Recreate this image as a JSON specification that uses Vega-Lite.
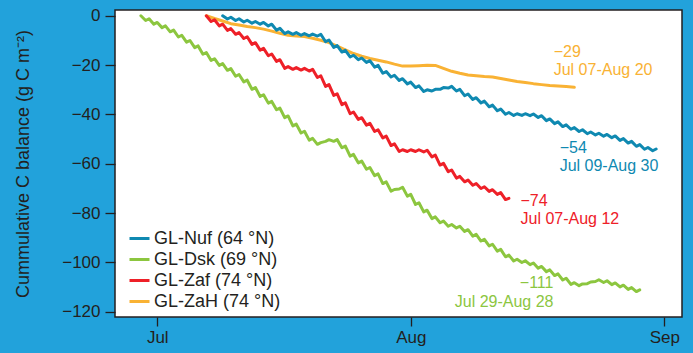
{
"$schema":"https://vega.github.io/schema/vega-lite/v6.json",
"width":567,"height":307,
"autosize":{"type":"none"},
"padding":{"left":115,"top":10,"right":11,"bottom":36},
"background":"#22a2db",
"config":{"view":{"stroke":"#231f20","strokeWidth":1.5,"fill":"#ffffff"},"font":"Liberation Sans"},
"datasets":{
"series":[
{"s":"GL-ZaH (74 °N)","t":"2013-07-07T00:00","v":0},
{"s":"GL-ZaH (74 °N)","t":"2013-07-08T00:00","v":-1.1},
{"s":"GL-ZaH (74 °N)","t":"2013-07-09T00:00","v":-2.1},
{"s":"GL-ZaH (74 °N)","t":"2013-07-10T00:00","v":-3.2},
{"s":"GL-ZaH (74 °N)","t":"2013-07-11T00:00","v":-3.7},
{"s":"GL-ZaH (74 °N)","t":"2013-07-12T00:00","v":-4.3},
{"s":"GL-ZaH (74 °N)","t":"2013-07-13T00:00","v":-4.8},
{"s":"GL-ZaH (74 °N)","t":"2013-07-14T00:00","v":-5.4},
{"s":"GL-ZaH (74 °N)","t":"2013-07-15T00:00","v":-6.2},
{"s":"GL-ZaH (74 °N)","t":"2013-07-16T00:00","v":-7.1},
{"s":"GL-ZaH (74 °N)","t":"2013-07-17T00:00","v":-7.9},
{"s":"GL-ZaH (74 °N)","t":"2013-07-18T00:00","v":-8.2},
{"s":"GL-ZaH (74 °N)","t":"2013-07-19T00:00","v":-8.4},
{"s":"GL-ZaH (74 °N)","t":"2013-07-20T00:00","v":-9.1},
{"s":"GL-ZaH (74 °N)","t":"2013-07-21T00:00","v":-9.9},
{"s":"GL-ZaH (74 °N)","t":"2013-07-22T00:00","v":-10.9},
{"s":"GL-ZaH (74 °N)","t":"2013-07-23T00:00","v":-12.3},
{"s":"GL-ZaH (74 °N)","t":"2013-07-24T00:00","v":-13.8},
{"s":"GL-ZaH (74 °N)","t":"2013-07-25T00:00","v":-15.3},
{"s":"GL-ZaH (74 °N)","t":"2013-07-26T00:00","v":-16.4},
{"s":"GL-ZaH (74 °N)","t":"2013-07-27T00:00","v":-17.3},
{"s":"GL-ZaH (74 °N)","t":"2013-07-28T00:00","v":-18.0},
{"s":"GL-ZaH (74 °N)","t":"2013-07-29T00:00","v":-18.7},
{"s":"GL-ZaH (74 °N)","t":"2013-07-30T00:00","v":-19.6},
{"s":"GL-ZaH (74 °N)","t":"2013-07-31T00:00","v":-20.4},
{"s":"GL-ZaH (74 °N)","t":"2013-08-01T00:00","v":-20.4},
{"s":"GL-ZaH (74 °N)","t":"2013-08-02T00:00","v":-20.2},
{"s":"GL-ZaH (74 °N)","t":"2013-08-03T00:00","v":-20.0},
{"s":"GL-ZaH (74 °N)","t":"2013-08-04T00:00","v":-20.1},
{"s":"GL-ZaH (74 °N)","t":"2013-08-05T00:00","v":-21.3},
{"s":"GL-ZaH (74 °N)","t":"2013-08-06T00:00","v":-22.5},
{"s":"GL-ZaH (74 °N)","t":"2013-08-07T00:00","v":-23.3},
{"s":"GL-ZaH (74 °N)","t":"2013-08-08T00:00","v":-24.0},
{"s":"GL-ZaH (74 °N)","t":"2013-08-09T00:00","v":-24.3},
{"s":"GL-ZaH (74 °N)","t":"2013-08-10T00:00","v":-24.6},
{"s":"GL-ZaH (74 °N)","t":"2013-08-11T00:00","v":-24.8},
{"s":"GL-ZaH (74 °N)","t":"2013-08-12T00:00","v":-25.4},
{"s":"GL-ZaH (74 °N)","t":"2013-08-13T00:00","v":-26.0},
{"s":"GL-ZaH (74 °N)","t":"2013-08-14T00:00","v":-26.6},
{"s":"GL-ZaH (74 °N)","t":"2013-08-15T00:00","v":-27.0},
{"s":"GL-ZaH (74 °N)","t":"2013-08-16T00:00","v":-27.5},
{"s":"GL-ZaH (74 °N)","t":"2013-08-17T00:00","v":-27.9},
{"s":"GL-ZaH (74 °N)","t":"2013-08-18T00:00","v":-28.3},
{"s":"GL-ZaH (74 °N)","t":"2013-08-19T00:00","v":-28.5},
{"s":"GL-ZaH (74 °N)","t":"2013-08-20T00:00","v":-28.7},
{"s":"GL-ZaH (74 °N)","t":"2013-08-21T00:00","v":-29.0},

{"s":"GL-Zaf (74 °N)","t":"2013-07-07T00:00","v":0},
{"s":"GL-Zaf (74 °N)","t":"2013-07-07T14:00","v":-2.3},
{"s":"GL-Zaf (74 °N)","t":"2013-07-08T00:00","v":-1.6},
{"s":"GL-Zaf (74 °N)","t":"2013-07-08T14:00","v":-4.1},
{"s":"GL-Zaf (74 °N)","t":"2013-07-09T00:00","v":-3.4},
{"s":"GL-Zaf (74 °N)","t":"2013-07-09T14:00","v":-5.9},
{"s":"GL-Zaf (74 °N)","t":"2013-07-10T00:00","v":-5.2},
{"s":"GL-Zaf (74 °N)","t":"2013-07-10T14:00","v":-7.5},
{"s":"GL-Zaf (74 °N)","t":"2013-07-11T00:00","v":-6.8},
{"s":"GL-Zaf (74 °N)","t":"2013-07-11T14:00","v":-9.2},
{"s":"GL-Zaf (74 °N)","t":"2013-07-12T00:00","v":-8.5},
{"s":"GL-Zaf (74 °N)","t":"2013-07-12T14:00","v":-11.6},
{"s":"GL-Zaf (74 °N)","t":"2013-07-13T00:00","v":-10.9},
{"s":"GL-Zaf (74 °N)","t":"2013-07-13T14:00","v":-13.9},
{"s":"GL-Zaf (74 °N)","t":"2013-07-14T00:00","v":-13.2},
{"s":"GL-Zaf (74 °N)","t":"2013-07-14T14:00","v":-16.2},
{"s":"GL-Zaf (74 °N)","t":"2013-07-15T00:00","v":-15.5},
{"s":"GL-Zaf (74 °N)","t":"2013-07-15T14:00","v":-18.5},
{"s":"GL-Zaf (74 °N)","t":"2013-07-16T00:00","v":-17.8},
{"s":"GL-Zaf (74 °N)","t":"2013-07-16T14:00","v":-21.3},
{"s":"GL-Zaf (74 °N)","t":"2013-07-17T00:00","v":-20.6},
{"s":"GL-Zaf (74 °N)","t":"2013-07-17T14:00","v":-21.7},
{"s":"GL-Zaf (74 °N)","t":"2013-07-18T00:00","v":-21.0},
{"s":"GL-Zaf (74 °N)","t":"2013-07-18T14:00","v":-22.0},
{"s":"GL-Zaf (74 °N)","t":"2013-07-19T00:00","v":-21.3},
{"s":"GL-Zaf (74 °N)","t":"2013-07-19T14:00","v":-22.4},
{"s":"GL-Zaf (74 °N)","t":"2013-07-20T00:00","v":-21.7},
{"s":"GL-Zaf (74 °N)","t":"2013-07-20T14:00","v":-25.0},
{"s":"GL-Zaf (74 °N)","t":"2013-07-21T00:00","v":-24.3},
{"s":"GL-Zaf (74 °N)","t":"2013-07-21T14:00","v":-28.6},
{"s":"GL-Zaf (74 °N)","t":"2013-07-22T00:00","v":-27.9},
{"s":"GL-Zaf (74 °N)","t":"2013-07-22T14:00","v":-32.3},
{"s":"GL-Zaf (74 °N)","t":"2013-07-23T00:00","v":-31.6},
{"s":"GL-Zaf (74 °N)","t":"2013-07-23T14:00","v":-36.0},
{"s":"GL-Zaf (74 °N)","t":"2013-07-24T00:00","v":-35.3},
{"s":"GL-Zaf (74 °N)","t":"2013-07-24T14:00","v":-39.7},
{"s":"GL-Zaf (74 °N)","t":"2013-07-25T00:00","v":-39.0},
{"s":"GL-Zaf (74 °N)","t":"2013-07-25T14:00","v":-42.0},
{"s":"GL-Zaf (74 °N)","t":"2013-07-26T00:00","v":-41.3},
{"s":"GL-Zaf (74 °N)","t":"2013-07-26T14:00","v":-44.3},
{"s":"GL-Zaf (74 °N)","t":"2013-07-27T00:00","v":-43.6},
{"s":"GL-Zaf (74 °N)","t":"2013-07-27T14:00","v":-46.9},
{"s":"GL-Zaf (74 °N)","t":"2013-07-28T00:00","v":-46.2},
{"s":"GL-Zaf (74 °N)","t":"2013-07-28T14:00","v":-49.5},
{"s":"GL-Zaf (74 °N)","t":"2013-07-29T00:00","v":-48.8},
{"s":"GL-Zaf (74 °N)","t":"2013-07-29T14:00","v":-52.6},
{"s":"GL-Zaf (74 °N)","t":"2013-07-30T00:00","v":-51.9},
{"s":"GL-Zaf (74 °N)","t":"2013-07-30T14:00","v":-55.0},
{"s":"GL-Zaf (74 °N)","t":"2013-07-31T00:00","v":-54.3},
{"s":"GL-Zaf (74 °N)","t":"2013-07-31T14:00","v":-55.0},
{"s":"GL-Zaf (74 °N)","t":"2013-08-01T00:00","v":-54.3},
{"s":"GL-Zaf (74 °N)","t":"2013-08-01T14:00","v":-55.0},
{"s":"GL-Zaf (74 °N)","t":"2013-08-02T00:00","v":-54.3},
{"s":"GL-Zaf (74 °N)","t":"2013-08-02T14:00","v":-55.2},
{"s":"GL-Zaf (74 °N)","t":"2013-08-03T00:00","v":-54.5},
{"s":"GL-Zaf (74 °N)","t":"2013-08-03T14:00","v":-57.2},
{"s":"GL-Zaf (74 °N)","t":"2013-08-04T00:00","v":-56.5},
{"s":"GL-Zaf (74 °N)","t":"2013-08-04T14:00","v":-60.5},
{"s":"GL-Zaf (74 °N)","t":"2013-08-05T00:00","v":-59.8},
{"s":"GL-Zaf (74 °N)","t":"2013-08-05T14:00","v":-63.2},
{"s":"GL-Zaf (74 °N)","t":"2013-08-06T00:00","v":-62.5},
{"s":"GL-Zaf (74 °N)","t":"2013-08-06T14:00","v":-65.8},
{"s":"GL-Zaf (74 °N)","t":"2013-08-07T00:00","v":-65.1},
{"s":"GL-Zaf (74 °N)","t":"2013-08-07T14:00","v":-67.3},
{"s":"GL-Zaf (74 °N)","t":"2013-08-08T00:00","v":-66.6},
{"s":"GL-Zaf (74 °N)","t":"2013-08-08T14:00","v":-68.7},
{"s":"GL-Zaf (74 °N)","t":"2013-08-09T00:00","v":-68.0},
{"s":"GL-Zaf (74 °N)","t":"2013-08-09T14:00","v":-70.0},
{"s":"GL-Zaf (74 °N)","t":"2013-08-10T00:00","v":-69.3},
{"s":"GL-Zaf (74 °N)","t":"2013-08-10T14:00","v":-71.2},
{"s":"GL-Zaf (74 °N)","t":"2013-08-11T00:00","v":-70.5},
{"s":"GL-Zaf (74 °N)","t":"2013-08-11T14:00","v":-72.4},
{"s":"GL-Zaf (74 °N)","t":"2013-08-12T00:00","v":-71.7},
{"s":"GL-Zaf (74 °N)","t":"2013-08-12T14:00","v":-74.5},
{"s":"GL-Zaf (74 °N)","t":"2013-08-13T00:00","v":-74.0},

{"s":"GL-Dsk (69 °N)","t":"2013-06-29T00:00","v":0},
{"s":"GL-Dsk (69 °N)","t":"2013-06-29T14:00","v":-1.9},
{"s":"GL-Dsk (69 °N)","t":"2013-06-30T00:00","v":-1.2},
{"s":"GL-Dsk (69 °N)","t":"2013-06-30T14:00","v":-3.4},
{"s":"GL-Dsk (69 °N)","t":"2013-07-01T00:00","v":-2.7},
{"s":"GL-Dsk (69 °N)","t":"2013-07-01T14:00","v":-4.8},
{"s":"GL-Dsk (69 °N)","t":"2013-07-02T00:00","v":-4.1},
{"s":"GL-Dsk (69 °N)","t":"2013-07-02T14:00","v":-6.5},
{"s":"GL-Dsk (69 °N)","t":"2013-07-03T00:00","v":-5.8},
{"s":"GL-Dsk (69 °N)","t":"2013-07-03T14:00","v":-8.6},
{"s":"GL-Dsk (69 °N)","t":"2013-07-04T00:00","v":-7.9},
{"s":"GL-Dsk (69 °N)","t":"2013-07-04T14:00","v":-10.7},
{"s":"GL-Dsk (69 °N)","t":"2013-07-05T00:00","v":-10.0},
{"s":"GL-Dsk (69 °N)","t":"2013-07-05T14:00","v":-12.9},
{"s":"GL-Dsk (69 °N)","t":"2013-07-06T00:00","v":-12.2},
{"s":"GL-Dsk (69 °N)","t":"2013-07-06T14:00","v":-15.6},
{"s":"GL-Dsk (69 °N)","t":"2013-07-07T00:00","v":-14.9},
{"s":"GL-Dsk (69 °N)","t":"2013-07-07T14:00","v":-18.1},
{"s":"GL-Dsk (69 °N)","t":"2013-07-08T00:00","v":-17.4},
{"s":"GL-Dsk (69 °N)","t":"2013-07-08T14:00","v":-20.1},
{"s":"GL-Dsk (69 °N)","t":"2013-07-09T00:00","v":-19.4},
{"s":"GL-Dsk (69 °N)","t":"2013-07-09T14:00","v":-22.1},
{"s":"GL-Dsk (69 °N)","t":"2013-07-10T00:00","v":-21.4},
{"s":"GL-Dsk (69 °N)","t":"2013-07-10T14:00","v":-24.5},
{"s":"GL-Dsk (69 °N)","t":"2013-07-11T00:00","v":-23.8},
{"s":"GL-Dsk (69 °N)","t":"2013-07-11T14:00","v":-26.8},
{"s":"GL-Dsk (69 °N)","t":"2013-07-12T00:00","v":-26.1},
{"s":"GL-Dsk (69 °N)","t":"2013-07-12T14:00","v":-29.8},
{"s":"GL-Dsk (69 °N)","t":"2013-07-13T00:00","v":-29.1},
{"s":"GL-Dsk (69 °N)","t":"2013-07-13T14:00","v":-32.7},
{"s":"GL-Dsk (69 °N)","t":"2013-07-14T00:00","v":-32.0},
{"s":"GL-Dsk (69 °N)","t":"2013-07-14T14:00","v":-35.4},
{"s":"GL-Dsk (69 °N)","t":"2013-07-15T00:00","v":-34.7},
{"s":"GL-Dsk (69 °N)","t":"2013-07-15T14:00","v":-38.1},
{"s":"GL-Dsk (69 °N)","t":"2013-07-16T00:00","v":-37.4},
{"s":"GL-Dsk (69 °N)","t":"2013-07-16T14:00","v":-41.3},
{"s":"GL-Dsk (69 °N)","t":"2013-07-17T00:00","v":-40.6},
{"s":"GL-Dsk (69 °N)","t":"2013-07-17T14:00","v":-44.6},
{"s":"GL-Dsk (69 °N)","t":"2013-07-18T00:00","v":-43.9},
{"s":"GL-Dsk (69 °N)","t":"2013-07-18T14:00","v":-47.5},
{"s":"GL-Dsk (69 °N)","t":"2013-07-19T00:00","v":-46.8},
{"s":"GL-Dsk (69 °N)","t":"2013-07-19T14:00","v":-50.4},
{"s":"GL-Dsk (69 °N)","t":"2013-07-20T00:00","v":-49.7},
{"s":"GL-Dsk (69 °N)","t":"2013-07-20T14:00","v":-52.1},
{"s":"GL-Dsk (69 °N)","t":"2013-07-21T00:00","v":-51.4},
{"s":"GL-Dsk (69 °N)","t":"2013-07-21T14:00","v":-50.9},
{"s":"GL-Dsk (69 °N)","t":"2013-07-22T00:00","v":-50.2},
{"s":"GL-Dsk (69 °N)","t":"2013-07-22T14:00","v":-50.9},
{"s":"GL-Dsk (69 °N)","t":"2013-07-23T00:00","v":-50.2},
{"s":"GL-Dsk (69 °N)","t":"2013-07-23T14:00","v":-53.5},
{"s":"GL-Dsk (69 °N)","t":"2013-07-24T00:00","v":-52.8},
{"s":"GL-Dsk (69 °N)","t":"2013-07-24T14:00","v":-56.9},
{"s":"GL-Dsk (69 °N)","t":"2013-07-25T00:00","v":-56.2},
{"s":"GL-Dsk (69 °N)","t":"2013-07-25T14:00","v":-59.6},
{"s":"GL-Dsk (69 °N)","t":"2013-07-26T00:00","v":-58.9},
{"s":"GL-Dsk (69 °N)","t":"2013-07-26T14:00","v":-62.2},
{"s":"GL-Dsk (69 °N)","t":"2013-07-27T00:00","v":-61.5},
{"s":"GL-Dsk (69 °N)","t":"2013-07-27T14:00","v":-64.8},
{"s":"GL-Dsk (69 °N)","t":"2013-07-28T00:00","v":-64.1},
{"s":"GL-Dsk (69 °N)","t":"2013-07-28T14:00","v":-68.0},
{"s":"GL-Dsk (69 °N)","t":"2013-07-29T00:00","v":-67.3},
{"s":"GL-Dsk (69 °N)","t":"2013-07-29T14:00","v":-71.1},
{"s":"GL-Dsk (69 °N)","t":"2013-07-30T00:00","v":-70.4},
{"s":"GL-Dsk (69 °N)","t":"2013-07-30T14:00","v":-70.2},
{"s":"GL-Dsk (69 °N)","t":"2013-07-31T00:00","v":-69.5},
{"s":"GL-Dsk (69 °N)","t":"2013-07-31T14:00","v":-73.1},
{"s":"GL-Dsk (69 °N)","t":"2013-08-01T00:00","v":-72.4},
{"s":"GL-Dsk (69 °N)","t":"2013-08-01T14:00","v":-76.5},
{"s":"GL-Dsk (69 °N)","t":"2013-08-02T00:00","v":-75.8},
{"s":"GL-Dsk (69 °N)","t":"2013-08-02T14:00","v":-79.5},
{"s":"GL-Dsk (69 °N)","t":"2013-08-03T00:00","v":-78.8},
{"s":"GL-Dsk (69 °N)","t":"2013-08-03T14:00","v":-82.2},
{"s":"GL-Dsk (69 °N)","t":"2013-08-04T00:00","v":-81.5},
{"s":"GL-Dsk (69 °N)","t":"2013-08-04T14:00","v":-83.9},
{"s":"GL-Dsk (69 °N)","t":"2013-08-05T00:00","v":-83.2},
{"s":"GL-Dsk (69 °N)","t":"2013-08-05T14:00","v":-85.3},
{"s":"GL-Dsk (69 °N)","t":"2013-08-06T00:00","v":-84.6},
{"s":"GL-Dsk (69 °N)","t":"2013-08-06T14:00","v":-86.0},
{"s":"GL-Dsk (69 °N)","t":"2013-08-07T00:00","v":-85.3},
{"s":"GL-Dsk (69 °N)","t":"2013-08-07T14:00","v":-87.4},
{"s":"GL-Dsk (69 °N)","t":"2013-08-08T00:00","v":-86.7},
{"s":"GL-Dsk (69 °N)","t":"2013-08-08T14:00","v":-89.3},
{"s":"GL-Dsk (69 °N)","t":"2013-08-09T00:00","v":-88.6},
{"s":"GL-Dsk (69 °N)","t":"2013-08-09T14:00","v":-91.3},
{"s":"GL-Dsk (69 °N)","t":"2013-08-10T00:00","v":-90.6},
{"s":"GL-Dsk (69 °N)","t":"2013-08-10T14:00","v":-93.3},
{"s":"GL-Dsk (69 °N)","t":"2013-08-11T00:00","v":-92.6},
{"s":"GL-Dsk (69 °N)","t":"2013-08-11T14:00","v":-95.4},
{"s":"GL-Dsk (69 °N)","t":"2013-08-12T00:00","v":-94.7},
{"s":"GL-Dsk (69 °N)","t":"2013-08-12T14:00","v":-97.7},
{"s":"GL-Dsk (69 °N)","t":"2013-08-13T00:00","v":-97.0},
{"s":"GL-Dsk (69 °N)","t":"2013-08-13T14:00","v":-99.4},
{"s":"GL-Dsk (69 °N)","t":"2013-08-14T00:00","v":-98.7},
{"s":"GL-Dsk (69 °N)","t":"2013-08-14T14:00","v":-100.0},
{"s":"GL-Dsk (69 °N)","t":"2013-08-15T00:00","v":-99.3},
{"s":"GL-Dsk (69 °N)","t":"2013-08-15T14:00","v":-100.9},
{"s":"GL-Dsk (69 °N)","t":"2013-08-16T00:00","v":-100.2},
{"s":"GL-Dsk (69 °N)","t":"2013-08-16T14:00","v":-102.3},
{"s":"GL-Dsk (69 °N)","t":"2013-08-17T00:00","v":-101.6},
{"s":"GL-Dsk (69 °N)","t":"2013-08-17T14:00","v":-103.7},
{"s":"GL-Dsk (69 °N)","t":"2013-08-18T00:00","v":-103.0},
{"s":"GL-Dsk (69 °N)","t":"2013-08-18T14:00","v":-105.3},
{"s":"GL-Dsk (69 °N)","t":"2013-08-19T00:00","v":-104.6},
{"s":"GL-Dsk (69 °N)","t":"2013-08-19T14:00","v":-107.1},
{"s":"GL-Dsk (69 °N)","t":"2013-08-20T00:00","v":-106.4},
{"s":"GL-Dsk (69 °N)","t":"2013-08-20T14:00","v":-108.9},
{"s":"GL-Dsk (69 °N)","t":"2013-08-21T00:00","v":-108.2},
{"s":"GL-Dsk (69 °N)","t":"2013-08-21T14:00","v":-109.4},
{"s":"GL-Dsk (69 °N)","t":"2013-08-22T00:00","v":-108.7},
{"s":"GL-Dsk (69 °N)","t":"2013-08-22T14:00","v":-108.6},
{"s":"GL-Dsk (69 °N)","t":"2013-08-23T00:00","v":-107.9},
{"s":"GL-Dsk (69 °N)","t":"2013-08-23T14:00","v":-107.7},
{"s":"GL-Dsk (69 °N)","t":"2013-08-24T00:00","v":-107.0},
{"s":"GL-Dsk (69 °N)","t":"2013-08-24T14:00","v":-108.1},
{"s":"GL-Dsk (69 °N)","t":"2013-08-25T00:00","v":-107.4},
{"s":"GL-Dsk (69 °N)","t":"2013-08-25T14:00","v":-109.0},
{"s":"GL-Dsk (69 °N)","t":"2013-08-26T00:00","v":-108.3},
{"s":"GL-Dsk (69 °N)","t":"2013-08-26T14:00","v":-109.9},
{"s":"GL-Dsk (69 °N)","t":"2013-08-27T00:00","v":-109.2},
{"s":"GL-Dsk (69 °N)","t":"2013-08-27T14:00","v":-110.9},
{"s":"GL-Dsk (69 °N)","t":"2013-08-28T00:00","v":-110.2},
{"s":"GL-Dsk (69 °N)","t":"2013-08-28T14:00","v":-111.8},
{"s":"GL-Dsk (69 °N)","t":"2013-08-29T00:00","v":-111.1},

{"s":"GL-Nuf (64 °N)","t":"2013-07-09T00:00","v":0},
{"s":"GL-Nuf (64 °N)","t":"2013-07-09T14:00","v":-1.3},
{"s":"GL-Nuf (64 °N)","t":"2013-07-10T00:00","v":-0.6},
{"s":"GL-Nuf (64 °N)","t":"2013-07-10T14:00","v":-1.9},
{"s":"GL-Nuf (64 °N)","t":"2013-07-11T00:00","v":-1.2},
{"s":"GL-Nuf (64 °N)","t":"2013-07-11T14:00","v":-2.5},
{"s":"GL-Nuf (64 °N)","t":"2013-07-12T00:00","v":-1.8},
{"s":"GL-Nuf (64 °N)","t":"2013-07-12T14:00","v":-3.0},
{"s":"GL-Nuf (64 °N)","t":"2013-07-13T00:00","v":-2.3},
{"s":"GL-Nuf (64 °N)","t":"2013-07-13T14:00","v":-3.4},
{"s":"GL-Nuf (64 °N)","t":"2013-07-14T00:00","v":-2.7},
{"s":"GL-Nuf (64 °N)","t":"2013-07-14T14:00","v":-4.1},
{"s":"GL-Nuf (64 °N)","t":"2013-07-15T00:00","v":-3.4},
{"s":"GL-Nuf (64 °N)","t":"2013-07-15T14:00","v":-5.8},
{"s":"GL-Nuf (64 °N)","t":"2013-07-16T00:00","v":-5.1},
{"s":"GL-Nuf (64 °N)","t":"2013-07-16T14:00","v":-7.2},
{"s":"GL-Nuf (64 °N)","t":"2013-07-17T00:00","v":-6.5},
{"s":"GL-Nuf (64 °N)","t":"2013-07-17T14:00","v":-7.5},
{"s":"GL-Nuf (64 °N)","t":"2013-07-18T00:00","v":-6.8},
{"s":"GL-Nuf (64 °N)","t":"2013-07-18T14:00","v":-7.9},
{"s":"GL-Nuf (64 °N)","t":"2013-07-19T00:00","v":-7.2},
{"s":"GL-Nuf (64 °N)","t":"2013-07-19T14:00","v":-8.1},
{"s":"GL-Nuf (64 °N)","t":"2013-07-20T00:00","v":-7.4},
{"s":"GL-Nuf (64 °N)","t":"2013-07-20T14:00","v":-8.2},
{"s":"GL-Nuf (64 °N)","t":"2013-07-21T00:00","v":-7.5},
{"s":"GL-Nuf (64 °N)","t":"2013-07-21T14:00","v":-10.5},
{"s":"GL-Nuf (64 °N)","t":"2013-07-22T00:00","v":-9.8},
{"s":"GL-Nuf (64 °N)","t":"2013-07-22T14:00","v":-12.8},
{"s":"GL-Nuf (64 °N)","t":"2013-07-23T00:00","v":-12.1},
{"s":"GL-Nuf (64 °N)","t":"2013-07-23T14:00","v":-14.7},
{"s":"GL-Nuf (64 °N)","t":"2013-07-24T00:00","v":-14.0},
{"s":"GL-Nuf (64 °N)","t":"2013-07-24T14:00","v":-16.7},
{"s":"GL-Nuf (64 °N)","t":"2013-07-25T00:00","v":-16.0},
{"s":"GL-Nuf (64 °N)","t":"2013-07-25T14:00","v":-17.8},
{"s":"GL-Nuf (64 °N)","t":"2013-07-26T00:00","v":-17.1},
{"s":"GL-Nuf (64 °N)","t":"2013-07-26T14:00","v":-18.9},
{"s":"GL-Nuf (64 °N)","t":"2013-07-27T00:00","v":-18.2},
{"s":"GL-Nuf (64 °N)","t":"2013-07-27T14:00","v":-20.8},
{"s":"GL-Nuf (64 °N)","t":"2013-07-28T00:00","v":-20.1},
{"s":"GL-Nuf (64 °N)","t":"2013-07-28T14:00","v":-23.3},
{"s":"GL-Nuf (64 °N)","t":"2013-07-29T00:00","v":-22.6},
{"s":"GL-Nuf (64 °N)","t":"2013-07-29T14:00","v":-24.8},
{"s":"GL-Nuf (64 °N)","t":"2013-07-30T00:00","v":-24.1},
{"s":"GL-Nuf (64 °N)","t":"2013-07-30T14:00","v":-26.2},
{"s":"GL-Nuf (64 °N)","t":"2013-07-31T00:00","v":-25.5},
{"s":"GL-Nuf (64 °N)","t":"2013-07-31T14:00","v":-27.6},
{"s":"GL-Nuf (64 °N)","t":"2013-08-01T00:00","v":-26.9},
{"s":"GL-Nuf (64 °N)","t":"2013-08-01T14:00","v":-29.1},
{"s":"GL-Nuf (64 °N)","t":"2013-08-02T00:00","v":-28.4},
{"s":"GL-Nuf (64 °N)","t":"2013-08-02T14:00","v":-30.7},
{"s":"GL-Nuf (64 °N)","t":"2013-08-03T00:00","v":-30.0},
{"s":"GL-Nuf (64 °N)","t":"2013-08-03T14:00","v":-30.5},
{"s":"GL-Nuf (64 °N)","t":"2013-08-04T00:00","v":-29.8},
{"s":"GL-Nuf (64 °N)","t":"2013-08-04T14:00","v":-29.8},
{"s":"GL-Nuf (64 °N)","t":"2013-08-05T00:00","v":-29.1},
{"s":"GL-Nuf (64 °N)","t":"2013-08-05T14:00","v":-29.3},
{"s":"GL-Nuf (64 °N)","t":"2013-08-06T00:00","v":-28.6},
{"s":"GL-Nuf (64 °N)","t":"2013-08-06T14:00","v":-30.5},
{"s":"GL-Nuf (64 °N)","t":"2013-08-07T00:00","v":-29.8},
{"s":"GL-Nuf (64 °N)","t":"2013-08-07T14:00","v":-32.4},
{"s":"GL-Nuf (64 °N)","t":"2013-08-08T00:00","v":-31.7},
{"s":"GL-Nuf (64 °N)","t":"2013-08-08T14:00","v":-33.9},
{"s":"GL-Nuf (64 °N)","t":"2013-08-09T00:00","v":-33.2},
{"s":"GL-Nuf (64 °N)","t":"2013-08-09T14:00","v":-35.3},
{"s":"GL-Nuf (64 °N)","t":"2013-08-10T00:00","v":-34.6},
{"s":"GL-Nuf (64 °N)","t":"2013-08-10T14:00","v":-36.9},
{"s":"GL-Nuf (64 °N)","t":"2013-08-11T00:00","v":-36.2},
{"s":"GL-Nuf (64 °N)","t":"2013-08-11T14:00","v":-38.5},
{"s":"GL-Nuf (64 °N)","t":"2013-08-12T00:00","v":-37.8},
{"s":"GL-Nuf (64 °N)","t":"2013-08-12T14:00","v":-39.9},
{"s":"GL-Nuf (64 °N)","t":"2013-08-13T00:00","v":-39.2},
{"s":"GL-Nuf (64 °N)","t":"2013-08-13T14:00","v":-40.4},
{"s":"GL-Nuf (64 °N)","t":"2013-08-14T00:00","v":-39.7},
{"s":"GL-Nuf (64 °N)","t":"2013-08-14T14:00","v":-40.4},
{"s":"GL-Nuf (64 °N)","t":"2013-08-15T00:00","v":-39.7},
{"s":"GL-Nuf (64 °N)","t":"2013-08-15T14:00","v":-40.5},
{"s":"GL-Nuf (64 °N)","t":"2013-08-16T00:00","v":-39.8},
{"s":"GL-Nuf (64 °N)","t":"2013-08-16T14:00","v":-41.2},
{"s":"GL-Nuf (64 °N)","t":"2013-08-17T00:00","v":-40.5},
{"s":"GL-Nuf (64 °N)","t":"2013-08-17T14:00","v":-42.5},
{"s":"GL-Nuf (64 °N)","t":"2013-08-18T00:00","v":-41.8},
{"s":"GL-Nuf (64 °N)","t":"2013-08-18T14:00","v":-43.7},
{"s":"GL-Nuf (64 °N)","t":"2013-08-19T00:00","v":-43.0},
{"s":"GL-Nuf (64 °N)","t":"2013-08-19T14:00","v":-44.9},
{"s":"GL-Nuf (64 °N)","t":"2013-08-20T00:00","v":-44.2},
{"s":"GL-Nuf (64 °N)","t":"2013-08-20T14:00","v":-46.0},
{"s":"GL-Nuf (64 °N)","t":"2013-08-21T00:00","v":-45.3},
{"s":"GL-Nuf (64 °N)","t":"2013-08-21T14:00","v":-46.9},
{"s":"GL-Nuf (64 °N)","t":"2013-08-22T00:00","v":-46.2},
{"s":"GL-Nuf (64 °N)","t":"2013-08-22T14:00","v":-47.8},
{"s":"GL-Nuf (64 °N)","t":"2013-08-23T00:00","v":-47.1},
{"s":"GL-Nuf (64 °N)","t":"2013-08-23T14:00","v":-48.3},
{"s":"GL-Nuf (64 °N)","t":"2013-08-24T00:00","v":-47.6},
{"s":"GL-Nuf (64 °N)","t":"2013-08-24T14:00","v":-48.8},
{"s":"GL-Nuf (64 °N)","t":"2013-08-25T00:00","v":-48.1},
{"s":"GL-Nuf (64 °N)","t":"2013-08-25T14:00","v":-49.4},
{"s":"GL-Nuf (64 °N)","t":"2013-08-26T00:00","v":-48.7},
{"s":"GL-Nuf (64 °N)","t":"2013-08-26T14:00","v":-50.5},
{"s":"GL-Nuf (64 °N)","t":"2013-08-27T00:00","v":-49.8},
{"s":"GL-Nuf (64 °N)","t":"2013-08-27T14:00","v":-51.6},
{"s":"GL-Nuf (64 °N)","t":"2013-08-28T00:00","v":-50.9},
{"s":"GL-Nuf (64 °N)","t":"2013-08-28T14:00","v":-52.9},
{"s":"GL-Nuf (64 °N)","t":"2013-08-29T00:00","v":-52.2},
{"s":"GL-Nuf (64 °N)","t":"2013-08-29T14:00","v":-54.1},
{"s":"GL-Nuf (64 °N)","t":"2013-08-30T00:00","v":-53.4},
{"s":"GL-Nuf (64 °N)","t":"2013-08-30T14:00","v":-54.7},
{"s":"GL-Nuf (64 °N)","t":"2013-08-31T00:00","v":-54.0}
],
"notes":[
{"s":"GL-ZaH (74 °N)","lab":"−29","t":"2013-08-18T11:30","v":-16.8,"al":"l"},
{"s":"GL-ZaH (74 °N)","lab":"Jul 07-Aug 20","t":"2013-08-18T11:30","v":-23.8,"al":"l"},
{"s":"GL-Nuf (64 °N)","lab":"−54","t":"2013-08-19T05:00","v":-55.6,"al":"l"},
{"s":"GL-Nuf (64 °N)","lab":"Jul 09-Aug 30","t":"2013-08-19T05:00","v":-62.9,"al":"l"},
{"s":"GL-Zaf (74 °N)","lab":"−74","t":"2013-08-14T10:00","v":-77.2,"al":"l"},
{"s":"GL-Zaf (74 °N)","lab":"Jul 07-Aug 12","t":"2013-08-14T10:00","v":-84.6,"al":"l"},
{"s":"GL-Dsk (69 °N)","lab":"−111","t":"2013-08-18T10:50","v":-110.5,"al":"r"},
{"s":"GL-Dsk (69 °N)","lab":"Jul 29-Aug 28","t":"2013-08-18T10:50","v":-118.0,"al":"r"}
]
},
"encoding":{
"x":{"field":"t","type":"temporal",
"scale":{"domain":[{"year":2013,"month":6,"date":25,"hours":20},{"year":2013,"month":9,"date":3,"hours":4}]},
"axis":{"values":[{"year":2013,"month":7,"date":1},{"year":2013,"month":8,"date":1},{"year":2013,"month":9,"date":1}],"format":"%b","title":null,"grid":false,"domain":false,"tickSize":9,"tickWidth":1.3,"tickColor":"#231f20","labelFontSize":17,"labelColor":"#231f20","labelPadding":3,"labelFlush":false}},
"y":{"field":"v","type":"quantitative",
"scale":{"domain":[-122.1,2.35],"nice":false,"zero":false},
"axis":{"values":[-120,-100,-80,-60,-40,-20,0],"title":"Cummulative C balance (g C m⁻²)","grid":false,"domain":false,"tickSize":10,"tickWidth":1.3,"tickColor":"#231f20","labelFontSize":17,"labelColor":"#231f20","labelPadding":5,"titleFontSize":18,"titleFontWeight":"normal","titleColor":"#231f20","titleX":-92,"titleY":153.5,"titleAngle":-90,"titleAlign":"center","titleBaseline":"middle"}}
},
"layer":[
{"data":{"name":"series"},
"mark":{"type":"line","strokeWidth":3,"strokeJoin":"round","strokeCap":"round"},
"encoding":{"color":{"field":"s","type":"nominal",
"scale":{"domain":["GL-Nuf (64 °N)","GL-Dsk (69 °N)","GL-Zaf (74 °N)","GL-ZaH (74 °N)"],"range":["#0f89b1","#8cc63f","#ee2028","#f9b234"]},
"legend":{"orient":"none","legendX":13,"legendY":217,"title":null,"symbolType":"stroke","symbolSize":400,"symbolStrokeWidth":3,"labelFontSize":18,"labelColor":"#231f20","labelOffset":3,"rowPadding":0,"padding":0,"labelLimit":300}}}},
{"data":{"name":"notes"},"transform":[{"filter":"datum.al == 'l'"}],
"mark":{"type":"text","align":"left","baseline":"alphabetic","fontSize":16},
"encoding":{"text":{"field":"lab"},"color":{"field":"s","type":"nominal","legend":null}}},
{"data":{"name":"notes"},"transform":[{"filter":"datum.al == 'r'"}],
"mark":{"type":"text","align":"right","baseline":"alphabetic","fontSize":16},
"encoding":{"text":{"field":"lab"},"color":{"field":"s","type":"nominal","legend":null}}}
]
}
